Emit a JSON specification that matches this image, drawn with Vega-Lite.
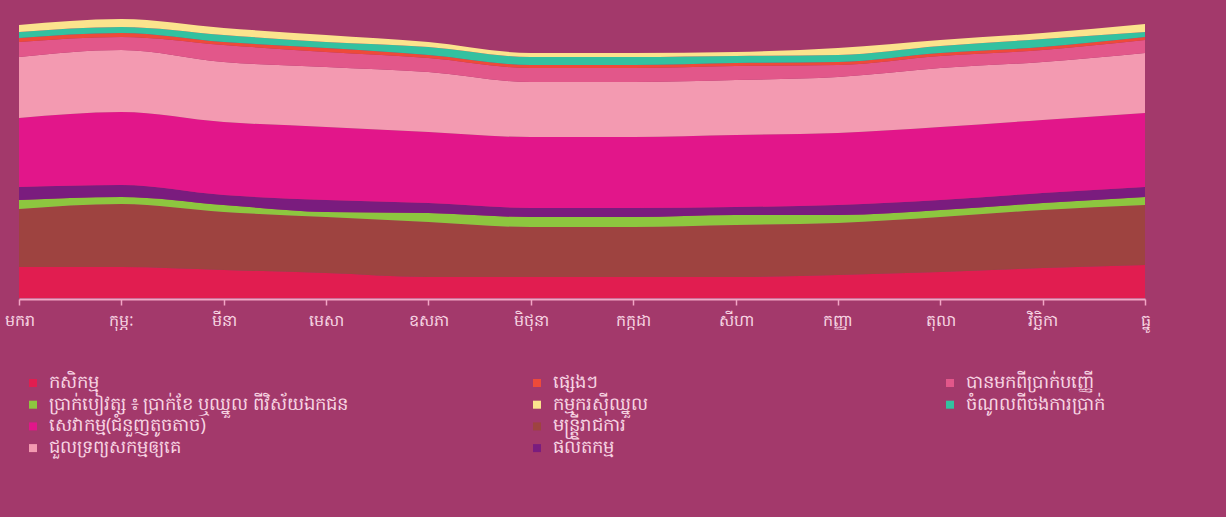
{
  "$schema": "https://vega.github.io/schema/vega-lite/v6.json",
  "width": 1126,
  "height": 280,
  "autosize": {"type": "none"},
  "padding": {"left": 19, "top": 18, "right": 81, "bottom": 219},
  "background": "#A3396B",
  "config": {
    "view": {"stroke": null},
    "font": "Noto Sans",
    "legend": {
      "symbolType": "square",
      "symbolSize": 64,
      "symbolStrokeWidth": 0,
      "labelFontSize": 18,
      "labelColor": "#F7D4E2",
      "rowPadding": 3.7,
      "labelOffset": 7,
      "padding": 0,
      "labelLimit": 600
    }
  },
  "data": {
    "values": [
      {"m": "មករា", "cat": "កសិកម្ម", "k": 1, "v": 31},
      {"m": "មករា", "cat": "មន្ត្រីរាជការ", "k": 2, "v": 58},
      {"m": "មករា", "cat": "ប្រាក់បៀវត្ស ៖ ប្រាក់ខែ ឬឈ្នួល ពីវិស័យឯកជន", "k": 3, "v": 9},
      {"m": "មករា", "cat": "ផលិតកម្ម", "k": 4, "v": 13},
      {"m": "មករា", "cat": "សេវាកម្ម(ជំនួញតូចតាច)", "k": 5, "v": 69},
      {"m": "មករា", "cat": "ជួលទ្រព្យសកម្មឲ្យគេ", "k": 6, "v": 61},
      {"m": "មករា", "cat": "បានមកពីប្រាក់បញ្ញើ", "k": 7, "v": 15},
      {"m": "មករា", "cat": "ផ្សេងៗ", "k": 8, "v": 4},
      {"m": "មករា", "cat": "ចំណូលពីចងការប្រាក់", "k": 9, "v": 6},
      {"m": "មករា", "cat": "កម្មករស៊ីឈ្នួល", "k": 10, "v": 7},

      {"m": "កុម្ភៈ", "cat": "កសិកម្ម", "k": 1, "v": 31},
      {"m": "កុម្ភៈ", "cat": "មន្ត្រីរាជការ", "k": 2, "v": 63},
      {"m": "កុម្ភៈ", "cat": "ប្រាក់បៀវត្ស ៖ ប្រាក់ខែ ឬឈ្នួល ពីវិស័យឯកជន", "k": 3, "v": 7},
      {"m": "កុម្ភៈ", "cat": "ផលិតកម្ម", "k": 4, "v": 12},
      {"m": "កុម្ភៈ", "cat": "សេវាកម្ម(ជំនួញតូចតាច)", "k": 5, "v": 73},
      {"m": "កុម្ភៈ", "cat": "ជួលទ្រព្យសកម្មឲ្យគេ", "k": 6, "v": 62},
      {"m": "កុម្ភៈ", "cat": "បានមកពីប្រាក់បញ្ញើ", "k": 7, "v": 13},
      {"m": "កុម្ភៈ", "cat": "ផ្សេងៗ", "k": 8, "v": 4},
      {"m": "កុម្ភៈ", "cat": "ចំណូលពីចងការប្រាក់", "k": 9, "v": 6},
      {"m": "កុម្ភៈ", "cat": "កម្មករស៊ីឈ្នួល", "k": 10, "v": 8},

      {"m": "មីនា", "cat": "កសិកម្ម", "k": 1, "v": 28},
      {"m": "មីនា", "cat": "មន្ត្រីរាជការ", "k": 2, "v": 58},
      {"m": "មីនា", "cat": "ប្រាក់បៀវត្ស ៖ ប្រាក់ខែ ឬឈ្នួល ពីវិស័យឯកជន", "k": 3, "v": 7},
      {"m": "មីនា", "cat": "ផលិតកម្ម", "k": 4, "v": 10},
      {"m": "មីនា", "cat": "សេវាកម្ម(ជំនួញតូចតាច)", "k": 5, "v": 73},
      {"m": "មីនា", "cat": "ជួលទ្រព្យសកម្មឲ្យគេ", "k": 6, "v": 60},
      {"m": "មីនា", "cat": "បានមកពីប្រាក់បញ្ញើ", "k": 7, "v": 17},
      {"m": "មីនា", "cat": "ផ្សេងៗ", "k": 8, "v": 3},
      {"m": "មីនា", "cat": "ចំណូលពីចងការប្រាក់", "k": 9, "v": 7},
      {"m": "មីនា", "cat": "កម្មករស៊ីឈ្នួល", "k": 10, "v": 7},

      {"m": "មេសា", "cat": "កសិកម្ម", "k": 1, "v": 25},
      {"m": "មេសា", "cat": "មន្ត្រីរាជការ", "k": 2, "v": 56},
      {"m": "មេសា", "cat": "ប្រាក់បៀវត្ស ៖ ប្រាក់ខែ ឬឈ្នួល ពីវិស័យឯកជន", "k": 3, "v": 5},
      {"m": "មេសា", "cat": "ផលិតកម្ម", "k": 4, "v": 12},
      {"m": "មេសា", "cat": "សេវាកម្ម(ជំនួញតូចតាច)", "k": 5, "v": 73},
      {"m": "មេសា", "cat": "ជួលទ្រព្យសកម្មឲ្យគេ", "k": 6, "v": 60},
      {"m": "មេសា", "cat": "បានមកពីប្រាក់បញ្ញើ", "k": 7, "v": 15},
      {"m": "មេសា", "cat": "ផ្សេងៗ", "k": 8, "v": 4},
      {"m": "មេសា", "cat": "ចំណូលពីចងការប្រាក់", "k": 9, "v": 6},
      {"m": "មេសា", "cat": "កម្មករស៊ីឈ្នួល", "k": 10, "v": 7},

      {"m": "ឧសភា", "cat": "កសិកម្ម", "k": 1, "v": 21},
      {"m": "ឧសភា", "cat": "មន្ត្រីរាជការ", "k": 2, "v": 55},
      {"m": "ឧសភា", "cat": "ប្រាក់បៀវត្ស ៖ ប្រាក់ខែ ឬឈ្នួល ពីវិស័យឯកជន", "k": 3, "v": 9},
      {"m": "ឧសភា", "cat": "ផលិតកម្ម", "k": 4, "v": 10},
      {"m": "ឧសភា", "cat": "សេវាកម្ម(ជំនួញតូចតាច)", "k": 5, "v": 71},
      {"m": "ឧសភា", "cat": "ជួលទ្រព្យសកម្មឲ្យគេ", "k": 6, "v": 60},
      {"m": "ឧសភា", "cat": "បានមកពីប្រាក់បញ្ញើ", "k": 7, "v": 14},
      {"m": "ឧសភា", "cat": "ផ្សេងៗ", "k": 8, "v": 3},
      {"m": "ឧសភា", "cat": "ចំណូលពីចងការប្រាក់", "k": 9, "v": 8},
      {"m": "ឧសភា", "cat": "កម្មករស៊ីឈ្នួល", "k": 10, "v": 5},

      {"m": "មិថុនា", "cat": "កសិកម្ម", "k": 1, "v": 21},
      {"m": "មិថុនា", "cat": "មន្ត្រីរាជការ", "k": 2, "v": 50},
      {"m": "មិថុនា", "cat": "ប្រាក់បៀវត្ស ៖ ប្រាក់ខែ ឬឈ្នួល ពីវិស័យឯកជន", "k": 3, "v": 10},
      {"m": "មិថុនា", "cat": "ផលិតកម្ម", "k": 4, "v": 9},
      {"m": "មិថុនា", "cat": "សេវាកម្ម(ជំនួញតូចតាច)", "k": 5, "v": 71},
      {"m": "មិថុនា", "cat": "ជួលទ្រព្យសកម្មឲ្យគេ", "k": 6, "v": 55},
      {"m": "មិថុនា", "cat": "បានមកពីប្រាក់បញ្ញើ", "k": 7, "v": 14},
      {"m": "មិថុនា", "cat": "ផ្សេងៗ", "k": 8, "v": 3},
      {"m": "មិថុនា", "cat": "ចំណូលពីចងការប្រាក់", "k": 9, "v": 8},
      {"m": "មិថុនា", "cat": "កម្មករស៊ីឈ្នួល", "k": 10, "v": 4},

      {"m": "កក្កដា", "cat": "កសិកម្ម", "k": 1, "v": 21},
      {"m": "កក្កដា", "cat": "មន្ត្រីរាជការ", "k": 2, "v": 50},
      {"m": "កក្កដា", "cat": "ប្រាក់បៀវត្ស ៖ ប្រាក់ខែ ឬឈ្នួល ពីវិស័យឯកជន", "k": 3, "v": 10},
      {"m": "កក្កដា", "cat": "ផលិតកម្ម", "k": 4, "v": 9},
      {"m": "កក្កដា", "cat": "សេវាកម្ម(ជំនួញតូចតាច)", "k": 5, "v": 71},
      {"m": "កក្កដា", "cat": "ជួលទ្រព្យសកម្មឲ្យគេ", "k": 6, "v": 55},
      {"m": "កក្កដា", "cat": "បានមកពីប្រាក់បញ្ញើ", "k": 7, "v": 14},
      {"m": "កក្កដា", "cat": "ផ្សេងៗ", "k": 8, "v": 3},
      {"m": "កក្កដា", "cat": "ចំណូលពីចងការប្រាក់", "k": 9, "v": 8},
      {"m": "កក្កដា", "cat": "កម្មករស៊ីឈ្នួល", "k": 10, "v": 4},

      {"m": "សីហា", "cat": "កសិកម្ម", "k": 1, "v": 21},
      {"m": "សីហា", "cat": "មន្ត្រីរាជការ", "k": 2, "v": 52},
      {"m": "សីហា", "cat": "ប្រាក់បៀវត្ស ៖ ប្រាក់ខែ ឬឈ្នួល ពីវិស័យឯកជន", "k": 3, "v": 10},
      {"m": "សីហា", "cat": "ផលិតកម្ម", "k": 4, "v": 8},
      {"m": "សីហា", "cat": "សេវាកម្ម(ជំនួញតូចតាច)", "k": 5, "v": 72},
      {"m": "សីហា", "cat": "ជួលទ្រព្យសកម្មឲ្យគេ", "k": 6, "v": 55},
      {"m": "សីហា", "cat": "បានមកពីប្រាក់បញ្ញើ", "k": 7, "v": 14},
      {"m": "សីហា", "cat": "ផ្សេងៗ", "k": 8, "v": 3},
      {"m": "សីហា", "cat": "ចំណូលពីចងការប្រាក់", "k": 9, "v": 7},
      {"m": "សីហា", "cat": "កម្មករស៊ីឈ្នួល", "k": 10, "v": 4},

      {"m": "កញ្ញា", "cat": "កសិកម្ម", "k": 1, "v": 23},
      {"m": "កញ្ញា", "cat": "មន្ត្រីរាជការ", "k": 2, "v": 52},
      {"m": "កញ្ញា", "cat": "ប្រាក់បៀវត្ស ៖ ប្រាក់ខែ ឬឈ្នួល ពីវិស័យឯកជន", "k": 3, "v": 8},
      {"m": "កញ្ញា", "cat": "ផលិតកម្ម", "k": 4, "v": 10},
      {"m": "កញ្ញា", "cat": "សេវាកម្ម(ជំនួញតូចតាច)", "k": 5, "v": 72},
      {"m": "កញ្ញា", "cat": "ជួលទ្រព្យសកម្មឲ្យគេ", "k": 6, "v": 56},
      {"m": "កញ្ញា", "cat": "បានមកពីប្រាក់បញ្ញើ", "k": 7, "v": 12},
      {"m": "កញ្ញា", "cat": "ផ្សេងៗ", "k": 8, "v": 3},
      {"m": "កញ្ញា", "cat": "ចំណូលពីចងការប្រាក់", "k": 9, "v": 7},
      {"m": "កញ្ញា", "cat": "កម្មករស៊ីឈ្នួល", "k": 10, "v": 7},

      {"m": "តុលា", "cat": "កសិកម្ម", "k": 1, "v": 26},
      {"m": "តុលា", "cat": "មន្ត្រីរាជការ", "k": 2, "v": 55},
      {"m": "តុលា", "cat": "ប្រាក់បៀវត្ស ៖ ប្រាក់ខែ ឬឈ្នួល ពីវិស័យឯកជន", "k": 3, "v": 7},
      {"m": "តុលា", "cat": "ផលិតកម្ម", "k": 4, "v": 10},
      {"m": "តុលា", "cat": "សេវាកម្ម(ជំនួញតូចតាច)", "k": 5, "v": 73},
      {"m": "តុលា", "cat": "ជួលទ្រព្យសកម្មឲ្យគេ", "k": 6, "v": 59},
      {"m": "តុលា", "cat": "បានមកពីប្រាក់បញ្ញើ", "k": 7, "v": 12},
      {"m": "តុលា", "cat": "ផ្សេងៗ", "k": 8, "v": 3},
      {"m": "តុលា", "cat": "ចំណូលពីចងការប្រាក់", "k": 9, "v": 7},
      {"m": "តុលា", "cat": "កម្មករស៊ីឈ្នួល", "k": 10, "v": 6},

      {"m": "វិច្ឆិកា", "cat": "កសិកម្ម", "k": 1, "v": 30},
      {"m": "វិច្ឆិកា", "cat": "មន្ត្រីរាជការ", "k": 2, "v": 58},
      {"m": "វិច្ឆិកា", "cat": "ប្រាក់បៀវត្ស ៖ ប្រាក់ខែ ឬឈ្នួល ពីវិស័យឯកជន", "k": 3, "v": 7},
      {"m": "វិច្ឆិកា", "cat": "ផលិតកម្ម", "k": 4, "v": 10},
      {"m": "វិច្ឆិកា", "cat": "សេវាកម្ម(ជំនួញតូចតាច)", "k": 5, "v": 73},
      {"m": "វិច្ឆិកា", "cat": "ជួលទ្រព្យសកម្មឲ្យគេ", "k": 6, "v": 58},
      {"m": "វិច្ឆិកា", "cat": "បានមកពីប្រាក់បញ្ញើ", "k": 7, "v": 12},
      {"m": "វិច្ឆិកា", "cat": "ផ្សេងៗ", "k": 8, "v": 3},
      {"m": "វិច្ឆិកា", "cat": "ចំណូលពីចងការប្រាក់", "k": 9, "v": 8},
      {"m": "វិច្ឆិកា", "cat": "កម្មករស៊ីឈ្នួល", "k": 10, "v": 6},

      {"m": "ធ្នូ", "cat": "កសិកម្ម", "k": 1, "v": 33},
      {"m": "ធ្នូ", "cat": "មន្ត្រីរាជការ", "k": 2, "v": 60},
      {"m": "ធ្នូ", "cat": "ប្រាក់បៀវត្ស ៖ ប្រាក់ខែ ឬឈ្នួល ពីវិស័យឯកជន", "k": 3, "v": 8},
      {"m": "ធ្នូ", "cat": "ផលិតកម្ម", "k": 4, "v": 10},
      {"m": "ធ្នូ", "cat": "សេវាកម្ម(ជំនួញតូចតាច)", "k": 5, "v": 74},
      {"m": "ធ្នូ", "cat": "ជួលទ្រព្យសកម្មឲ្យគេ", "k": 6, "v": 60},
      {"m": "ធ្នូ", "cat": "បានមកពីប្រាក់បញ្ញើ", "k": 7, "v": 13},
      {"m": "ធ្នូ", "cat": "ផ្សេងៗ", "k": 8, "v": 3},
      {"m": "ធ្នូ", "cat": "ចំណូលពីចងការប្រាក់", "k": 9, "v": 5},
      {"m": "ធ្នូ", "cat": "កម្មករស៊ីឈ្នួល", "k": 10, "v": 8}
    ]
  },
  "encoding": {
    "x": {
      "field": "m",
      "type": "ordinal",
      "sort": ["មករា", "កុម្ភៈ", "មីនា", "មេសា", "ឧសភា", "មិថុនា", "កក្កដា", "សីហា", "កញ្ញា", "តុលា", "វិច្ឆិកា", "ធ្នូ"],
      "scale": {"type": "point", "padding": 0},
      "axis": {
        "title": null,
        "labelAngle": 0,
        "labelFontSize": 16,
        "labelColor": "#F7D4E2",
        "domainColor": "#F2A6C4",
        "domainWidth": 2,
        "tickColor": "#F2A6C4",
        "tickSize": 6,
        "tickWidth": 1.5,
        "labelPadding": 7,
        "offset": 1,
        "grid": false
      }
    }
  },
  "layer": [
    {
      "mark": {"type": "area", "interpolate": "monotone"},
      "encoding": {
        "y": {"field": "v", "type": "quantitative", "stack": "zero", "scale": {"domain": [0, 280], "nice": false}, "axis": null},
        "color": {
          "field": "cat",
          "type": "nominal",
          "scale": {
            "domain": ["កសិកម្ម", "មន្ត្រីរាជការ", "ប្រាក់បៀវត្ស ៖ ប្រាក់ខែ ឬឈ្នួល ពីវិស័យឯកជន", "ផលិតកម្ម", "សេវាកម្ម(ជំនួញតូចតាច)", "ជួលទ្រព្យសកម្មឲ្យគេ", "បានមកពីប្រាក់បញ្ញើ", "ផ្សេងៗ", "ចំណូលពីចងការប្រាក់", "កម្មករស៊ីឈ្នួល"],
            "range": ["#E11D50", "#9E4340", "#8DC63F", "#7A1C7E", "#E2168A", "#F39AB1", "#E2578A", "#EE4A3A", "#33C1A0", "#FBE38D"]
          },
          "legend": null
        },
        "order": {"field": "k", "type": "quantitative", "sort": "ascending"}
      }
    },
    {
      "transform": [{"filter": {"field": "cat", "oneOf": ["កសិកម្ម", "ប្រាក់បៀវត្ស ៖ ប្រាក់ខែ ឬឈ្នួល ពីវិស័យឯកជន", "សេវាកម្ម(ជំនួញតូចតាច)", "ជួលទ្រព្យសកម្មឲ្យគេ"]}}],
      "mark": "bar",
      "encoding": {
        "y": {"datum": 0},
        "color": {
          "field": "cat",
          "type": "nominal",
          "scale": {
            "domain": ["កសិកម្ម", "ប្រាក់បៀវត្ស ៖ ប្រាក់ខែ ឬឈ្នួល ពីវិស័យឯកជន", "សេវាកម្ម(ជំនួញតូចតាច)", "ជួលទ្រព្យសកម្មឲ្យគេ"],
            "range": ["#E11D50", "#8DC63F", "#E2168A", "#F39AB1"]
          },
          "legend": {"title": null, "orient": "none", "legendX": 5, "legendY": 356}
        }
      }
    },
    {
      "transform": [{"filter": {"field": "cat", "oneOf": ["ផ្សេងៗ", "កម្មករស៊ីឈ្នួល", "មន្ត្រីរាជការ", "ផលិតកម្ម"]}}],
      "mark": "bar",
      "encoding": {
        "y": {"datum": 0},
        "color": {
          "field": "cat",
          "type": "nominal",
          "scale": {
            "domain": ["ផ្សេងៗ", "កម្មករស៊ីឈ្នួល", "មន្ត្រីរាជការ", "ផលិតកម្ម"],
            "range": ["#EE4A3A", "#FBE38D", "#9E4340", "#7A1C7E"]
          },
          "legend": {"title": null, "orient": "none", "legendX": 509, "legendY": 356}
        }
      }
    },
    {
      "transform": [{"filter": {"field": "cat", "oneOf": ["បានមកពីប្រាក់បញ្ញើ", "ចំណូលពីចងការប្រាក់"]}}],
      "mark": "bar",
      "encoding": {
        "y": {"datum": 0},
        "color": {
          "field": "cat",
          "type": "nominal",
          "scale": {
            "domain": ["បានមកពីប្រាក់បញ្ញើ", "ចំណូលពីចងការប្រាក់"],
            "range": ["#E2578A", "#33C1A0"]
          },
          "legend": {"title": null, "orient": "none", "legendX": 922, "legendY": 356}
        }
      }
    }
  ],
  "resolve": {"scale": {"color": "independent"}, "legend": {"color": "independent"}}
}
